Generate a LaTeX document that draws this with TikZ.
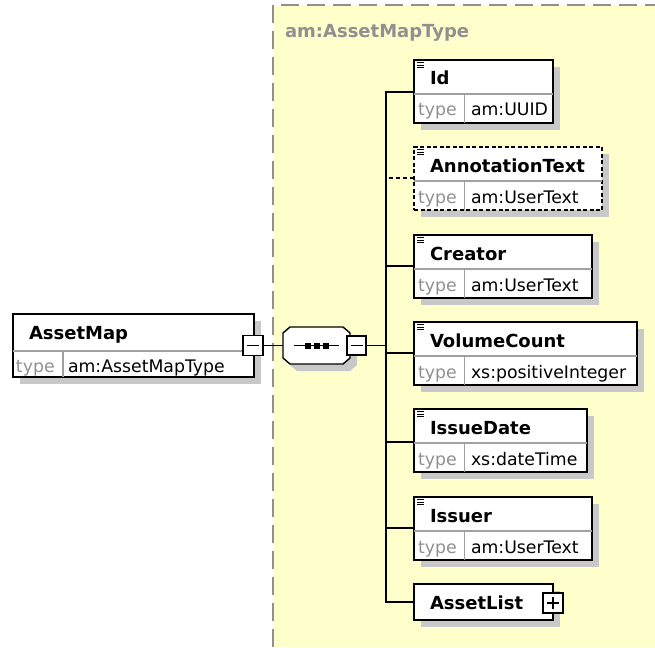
\documentclass[tikz,border=0pt]{standalone}
\usepackage{fontspec}
\setmainfont{DejaVu Sans}
\usetikzlibrary{shadows}
\definecolor{bgyellow}{HTML}{FFFFCC}
\definecolor{shadowgray}{HTML}{C8C8C8}
\definecolor{divgray}{HTML}{A0A0A0}
\definecolor{labelgray}{HTML}{909090}
\definecolor{framegray}{HTML}{909090}
\tikzset{
 elembox/.style={draw=black, line width=1.4pt, fill=white, inner sep=0pt, outer sep=0pt, minimum height=63pt,
   drop shadow={shadow xshift=7pt, shadow yshift=-7pt, fill=shadowgray, opacity=1}},
 optbox/.style={dash pattern=on 4pt off 2.5pt},
 divline/.style={draw=divgray, line width=1.1pt},
 iconline/.style={draw=black, line width=0.9pt},
 titletext/.style={font=\fontsize{18}{20}\selectfont\bfseries, inner sep=0pt, outer sep=0pt, anchor=base west},
 keytext/.style={font=\fontsize{17.3}{20}\selectfont, text=labelgray, inner sep=0pt, outer sep=0pt, anchor=base west},
 valtext/.style={font=\fontsize{17.3}{20}\selectfont, inner sep=0pt, outer sep=0pt, anchor=base west},
 conn/.style={draw=black, line width=1.4pt},
 pmbox/.style={draw=black, line width=1.4pt, fill=white, minimum size=20pt, inner sep=0pt, outer sep=0pt},
 pmsign/.style={draw=black, line width=1.4pt},
}
\newcommand\xelem[7][]{%
 \node[elembox,#1,minimum width=#5pt,anchor=north west] (#2) at (#3,#4) {};
 \draw[divline] ([yshift=-34pt]#2.north west) -- ([yshift=-34pt]#2.north east);
 \draw[divline] ([xshift=50.5pt,yshift=-34pt]#2.north west) -- ([xshift=50.5pt]#2.south west);
 \draw[iconline] ([xshift=3pt,yshift=-2.4pt]#2.north west) -- ++(7pt,0pt);
 \draw[iconline] ([xshift=3pt,yshift=-5pt]#2.north west) -- ++(7pt,0pt);
 \draw[iconline] ([xshift=3pt,yshift=-7.6pt]#2.north west) -- ++(7pt,0pt);
 \node[titletext] (#2t) at ([xshift=16pt,yshift=-25pt]#2.north west) {#6};
 \node[keytext] (#2k) at ([xshift=4pt,yshift=7pt]#2.south west) {type};
 \node[valtext] (#2v) at ([xshift=57pt,yshift=7pt]#2.south west) {#7};
}
\begin{document}
\begin{tikzpicture}[x=1pt,y=-1pt]
\useasboundingbox (0,0) rectangle (655,647);
% complex type region
\fill[bgyellow] (273,5) rectangle (655,647);
\draw[framegray, line width=1.4pt, dash pattern=on 18pt off 8pt] (273,647) -- (273,5) -- (655,5);
\node[titletext, text=labelgray] (typename) at (285,38) {am:AssetMapType};

% root element
\node[elembox, minimum width=241pt] (assetmap) at (133.5,345.5) {};
\draw[divline] ([yshift=-37pt]assetmap.north west) -- ([yshift=-37pt]assetmap.north east);
\draw[divline] ([xshift=50pt,yshift=-37pt]assetmap.north west) -- ([xshift=50pt]assetmap.south west);
\node[titletext] (amt) at ([xshift=16pt,yshift=-25pt]assetmap.north west) {AssetMap};
\node[keytext] (amk) at ([xshift=3pt,yshift=5pt]assetmap.south west) {type};
\node[valtext] (amv) at ([xshift=55pt,yshift=5pt]assetmap.south west) {am:AssetMapType};
\node[pmbox] (amminus) at (253,345.5) {};
\draw[pmsign] ([xshift=-6pt]amminus.center) -- ([xshift=6pt]amminus.center);

% sequence compositor
\node[minimum width=67pt, minimum height=37pt, inner sep=0pt, outer sep=0pt] (seq) at (316.5,345.5) {};
\fill[shadowgray, transform canvas={shift={(7pt,-7pt)}}]
  ([xshift=7pt]seq.north west) -- ([xshift=-7pt]seq.north east) -- ([yshift=-6pt]seq.north east)
  -- ([yshift=6pt]seq.south east) -- ([xshift=-7pt]seq.south east) -- ([xshift=7pt]seq.south west)
  -- ([yshift=6pt]seq.south west) -- ([yshift=-6pt]seq.north west) -- cycle;
\draw[line width=1.4pt, fill=white]
  ([xshift=7pt]seq.north west) -- ([xshift=-7pt]seq.north east) -- ([yshift=-6pt]seq.north east)
  -- ([yshift=6pt]seq.south east) -- ([xshift=-7pt]seq.south east) -- ([xshift=7pt]seq.south west)
  -- ([yshift=6pt]seq.south west) -- ([yshift=-6pt]seq.north west) -- cycle;
\draw[line width=1.2pt] ([xshift=-23pt]seq.center) -- ([xshift=22pt]seq.center);
\fill ([xshift=-9pt]seq.center) +(-3pt,-3pt) rectangle +(3pt,3pt);
\fill (seq.center) +(-3pt,-3pt) rectangle +(3pt,3pt);
\fill ([xshift=9pt]seq.center) +(-3pt,-3pt) rectangle +(3pt,3pt);
\node[pmbox, minimum size=19pt] (seqminus) at (356.5,345.5) {};
\draw[pmsign] ([xshift=-6pt]seqminus.center) -- ([xshift=6pt]seqminus.center);

\draw[conn] (amminus.east) -- (seq.west);
\coordinate (bus) at (386,345.5);
\draw[conn] (seqminus.east) -- (bus);

% children
\xelem{id}{414}{60}{139}{Id}{am:UUID}
\xelem[optbox]{annot}{414}{147}{188}{AnnotationText}{am:UserText}
\xelem{creator}{414}{235}{178}{Creator}{am:UserText}
\xelem{volume}{414}{322}{223}{VolumeCount}{xs:positiveInteger}
\xelem{issuedate}{414}{409}{173}{IssueDate}{xs:dateTime}
\xelem{issuer}{414}{497}{178}{Issuer}{am:UserText}
\node[elembox, minimum width=139pt, minimum height=36pt, anchor=north west] (assetlist) at (414,584) {};
\node[titletext] (alt) at ([xshift=16pt,yshift=-25pt]assetlist.north west) {AssetList};
\node[pmbox] (alplus) at (553,603) {};
\draw[pmsign] ([xshift=-6pt]alplus.center) -- ([xshift=6pt]alplus.center);
\draw[pmsign] ([yshift=-6pt]alplus.center) -- ([yshift=6pt]alplus.center);

% connectors
\draw[conn] ([yshift=-32pt]id.north west) -| (bus);
\coordinate (annotc) at ([yshift=-31pt]annot.north west);
\draw[conn, dash pattern=on 4pt off 3pt] (annotc) -- (annotc -| bus);
\draw[conn] ([yshift=-31pt]creator.north west) -| (bus);
\draw[conn] ([yshift=-31pt]volume.north west) -| (bus);
\draw[conn] ([yshift=-33pt]issuedate.north west) -| (bus);
\draw[conn] ([yshift=-31pt]issuer.north west) -| (bus);
\draw[conn] (assetlist.west) -| (bus);
\end{tikzpicture}
\end{document}
